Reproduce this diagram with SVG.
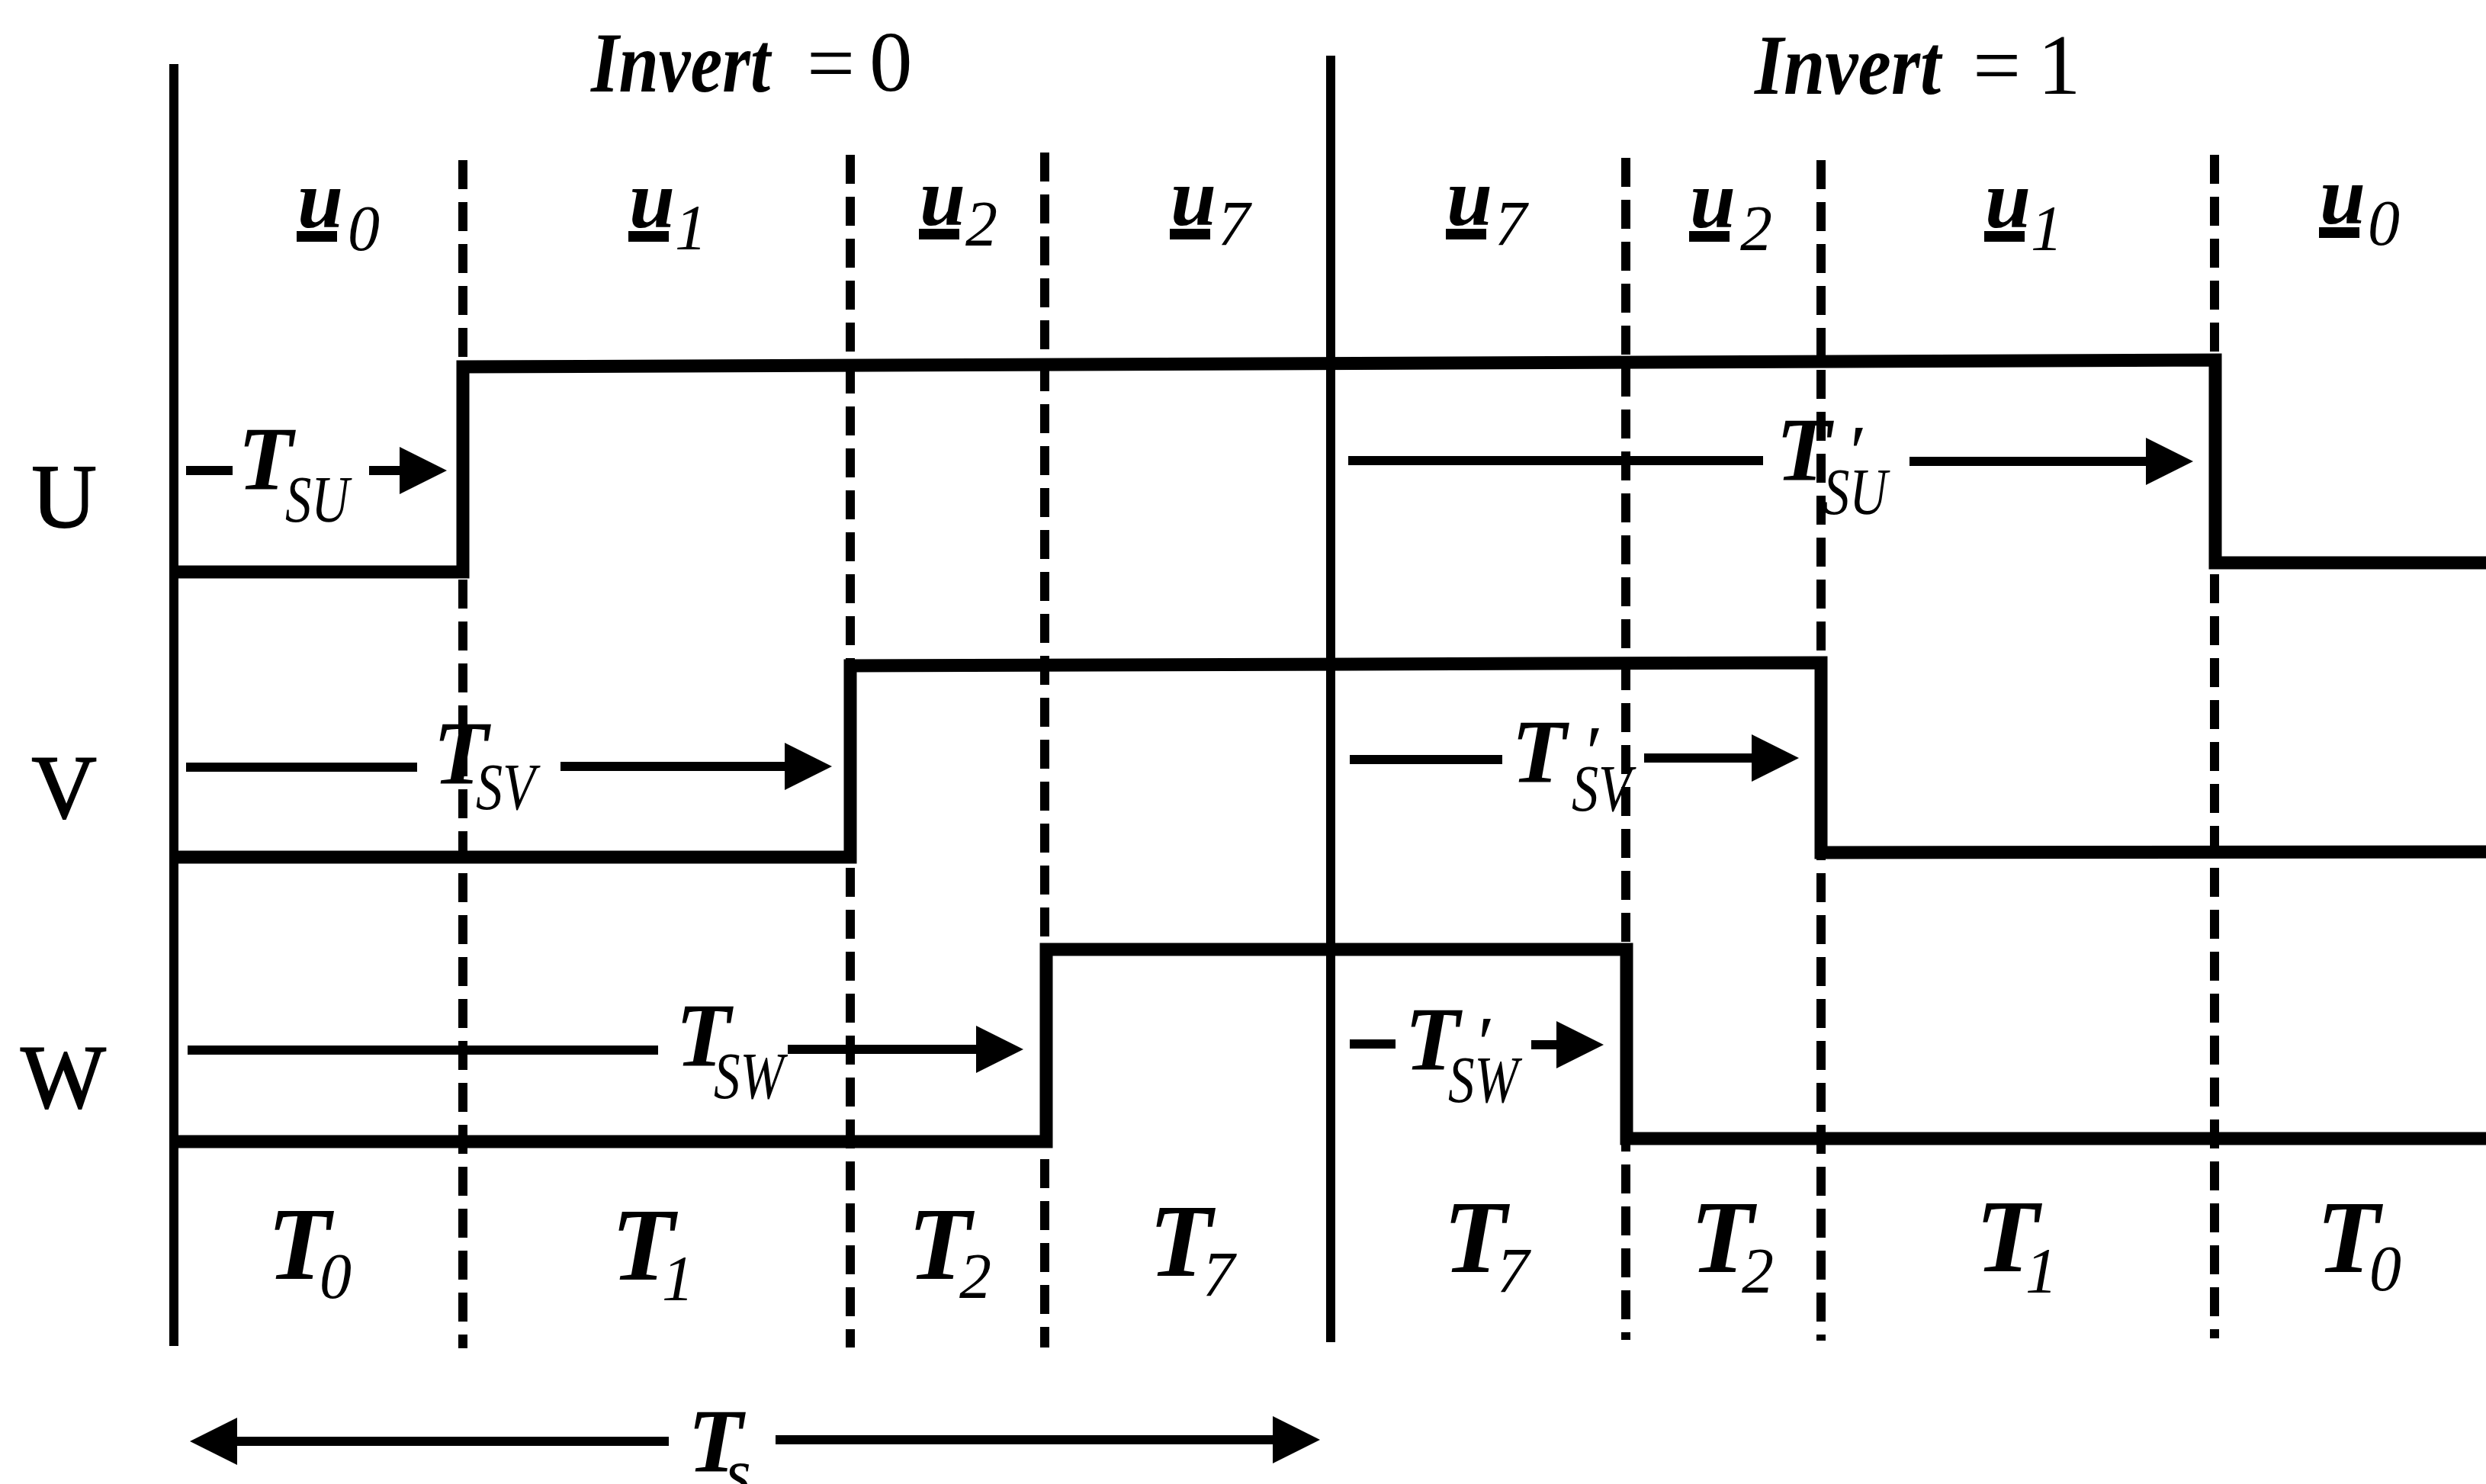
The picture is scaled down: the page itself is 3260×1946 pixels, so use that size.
<svg xmlns="http://www.w3.org/2000/svg" width="3260" height="1946" viewBox="0 0 3260 1946">
<style>
.solid{stroke:#000;stroke-width:12;fill:none}
.dash{stroke:#000;stroke-width:12;fill:none;stroke-dasharray:38 17}
.wave{stroke:#000;stroke-width:17;fill:none;stroke-linejoin:miter}
.arr{stroke:#000;stroke-width:12;fill:none}
.it{font-family:"Liberation Serif","Times New Roman",serif;font-style:italic;font-weight:700;fill:#000}
.si{font-family:"Liberation Serif","Times New Roman",serif;font-style:italic;font-weight:400;fill:#000}
.rm{font-family:"Liberation Serif","Times New Roman",serif;fill:#000}
.ul{fill:#000}
.big{font-size:136px}
.sub{font-size:84px}
.u{font-size:108px}
.lt{font-size:118px}
.ls{font-size:86px}
.pr{font-size:100px}
</style>
<defs>
<marker id="ah" markerUnits="userSpaceOnUse" markerWidth="62" markerHeight="62" refX="12" refY="31" orient="auto">
<path d="M0,0 L62,31 L0,62 z" fill="#000"/>
</marker>
</defs>
<rect width="3260" height="1946" fill="#fff"/>

<g id="grid">
<line class="solid" x1="228" y1="84" x2="228" y2="1765"/>
<line class="solid" x1="1745" y1="73" x2="1745" y2="1760"/>
<line class="dash" x1="607" y1="210" x2="607" y2="1768"/>
<line class="dash" x1="1115" y1="203" x2="1115" y2="1767"/>
<line class="dash" x1="1370" y1="200" x2="1370" y2="1767"/>
<line class="dash" x1="2132" y1="207" x2="2132" y2="1757"/>
<line class="dash" x1="2388" y1="210" x2="2388" y2="1758"/>
<line class="dash" x1="2904" y1="203" x2="2904" y2="1755"/>
</g>

<g id="header-invert0">
<text class="it" x="775" y="120" font-size="113" textLength="235" lengthAdjust="spacingAndGlyphs">Invert</text>
<text class="rm" x="1058" y="120" font-size="112">=</text>
<text class="rm" x="1140" y="119" font-size="113">0</text>
</g>
<g id="header-invert1">
<text class="it" x="2301" y="123" font-size="113" textLength="244" lengthAdjust="spacingAndGlyphs">Invert</text>
<text class="rm" x="2587" y="123" font-size="112">=</text>
<text class="rm" x="2672" y="123" font-size="113">1</text>
</g>

<g id="vector-labels">
<g id="u0a"><text class="it u" x="390" y="298">u</text><rect class="ul" x="389" y="303" width="53" height="14"/><text class="si sub" x="477" y="328" text-anchor="middle">0</text></g>
<g id="u1a"><text class="it u" x="825" y="298">u</text><rect class="ul" x="824" y="303" width="53" height="14"/><text class="si sub" x="906" y="327" text-anchor="middle">1</text></g>
<g id="u2a"><text class="it u" x="1206" y="295">u</text><rect class="ul" x="1205" y="300" width="53" height="14"/><text class="si sub" x="1287" y="322" text-anchor="middle">2</text></g>
<g id="u7a"><text class="it u" x="1535" y="295">u</text><rect class="ul" x="1534" y="300" width="53" height="14"/><text class="si sub" x="1618" y="322" text-anchor="middle">7</text></g>
<g id="u7b"><text class="it u" x="1897" y="295">u</text><rect class="ul" x="1896" y="300" width="53" height="14"/><text class="si sub" x="1981" y="322" text-anchor="middle">7</text></g>
<g id="u2b"><text class="it u" x="2216" y="298">u</text><rect class="ul" x="2215" y="303" width="53" height="14"/><text class="si sub" x="2303" y="328" text-anchor="middle">2</text></g>
<g id="u1b"><text class="it u" x="2603" y="298">u</text><rect class="ul" x="2602" y="303" width="53" height="14"/><text class="si sub" x="2684" y="328" text-anchor="middle">1</text></g>
<g id="u0b"><text class="it u" x="3042" y="293">u</text><rect class="ul" x="3041" y="298" width="53" height="14"/><text class="si sub" x="3126" y="321" text-anchor="middle">0</text></g>
</g>

<g id="phase-labels">
<text id="lblU" class="rm" x="84" y="691" font-size="118" text-anchor="middle" stroke="#000" stroke-width="2">U</text>
<text id="lblV" class="rm" x="84" y="1072" font-size="118" text-anchor="middle" stroke="#000" stroke-width="2">V</text>
<text id="lblW" class="rm" x="83" y="1452" font-size="118" text-anchor="middle" stroke="#000" stroke-width="2">W</text>
</g>

<g id="waveforms">
<path id="waveU" class="wave" d="M228,750 L607,750 L607,481 L2905,472 L2905,738 L3260,738"/>
<path id="waveV" class="wave" d="M228,1124 L1115,1124 L1115,873 L2388,869 L2388,1118 L3260,1117"/>
<path id="waveW" class="wave" d="M228,1497 L1372,1497 L1372,1245 L2133,1245 L2133,1493 L3260,1493"/>
</g>

<g id="connectors">
<line class="arr" x1="244" y1="617" x2="305" y2="617"/>
<line class="arr" x1="484" y1="617" x2="536" y2="617" marker-end="url(#ah)"/>
<line class="arr" x1="244" y1="1006" x2="547" y2="1006"/>
<line class="arr" x1="735" y1="1005" x2="1041" y2="1005" marker-end="url(#ah)"/>
<line class="arr" x1="246" y1="1377" x2="863" y2="1377"/>
<line class="arr" x1="1033" y1="1376" x2="1292" y2="1376" marker-end="url(#ah)"/>
<line class="arr" x1="1768" y1="604" x2="2312" y2="604"/>
<line class="arr" x1="2504" y1="605" x2="2826" y2="605" marker-end="url(#ah)"/>
<line class="arr" x1="1770" y1="996" x2="1970" y2="996"/>
<line class="arr" x1="2156" y1="994" x2="2309" y2="994" marker-end="url(#ah)"/>
<line class="arr" x1="1770" y1="1369" x2="1830" y2="1369"/>
<line class="arr" x1="2008" y1="1370" x2="2053" y2="1370" marker-end="url(#ah)"/>
<line class="arr" x1="877" y1="1890" x2="299" y2="1890" marker-end="url(#ah)"/>
<line class="arr" x1="1017" y1="1888" x2="1681" y2="1888" marker-end="url(#ah)"/>
</g>

<g id="time-labels">
<g id="tSU"><text class="it lt" x="348" y="642" text-anchor="middle">T</text><text class="si ls" x="374" y="684" textLength="84" lengthAdjust="spacingAndGlyphs">SU</text></g>
<g id="tSV"><text class="it lt" x="604" y="1028" text-anchor="middle">T</text><text class="si ls" x="624" y="1061" textLength="78" lengthAdjust="spacingAndGlyphs">SV</text></g>
<g id="tSW"><text class="it lt" x="922" y="1398" text-anchor="middle">T</text><text class="si ls" x="936" y="1440" textLength="92" lengthAdjust="spacingAndGlyphs">SW</text></g>
<g id="tSUp"><text class="it lt" x="2365" y="630" text-anchor="middle">T</text><text class="rm pr" x="2437" y="626" text-anchor="middle">′</text><text class="si ls" x="2391" y="674" textLength="84" lengthAdjust="spacingAndGlyphs">SU</text></g>
<g id="tSVp"><text class="it lt" x="2018" y="1026" text-anchor="middle">T</text><text class="rm pr" x="2091" y="1020" text-anchor="middle">′</text><text class="si ls" x="2061" y="1063" textLength="78" lengthAdjust="spacingAndGlyphs">SV</text></g>
<g id="tSWp"><text class="it lt" x="1878" y="1403" text-anchor="middle">T</text><text class="rm pr" x="1949" y="1401" text-anchor="middle">′</text><text class="si ls" x="1899" y="1445" textLength="92" lengthAdjust="spacingAndGlyphs">SW</text></g>
<g id="tS"><text class="it lt" x="938" y="1930" text-anchor="middle">T</text><text class="si ls" x="968" y="1960" text-anchor="middle">s</text></g>
</g>

<g id="interval-labels">
<g id="T0a"><text class="it big" x="392" y="1677" text-anchor="middle">T</text><text class="si sub" x="440" y="1702" text-anchor="middle">0</text></g>
<g id="T1a"><text class="it big" x="843" y="1678" text-anchor="middle">T</text><text class="si sub" x="889" y="1705" text-anchor="middle">1</text></g>
<g id="T2a"><text class="it big" x="1232" y="1677" text-anchor="middle">T</text><text class="si sub" x="1279" y="1702" text-anchor="middle">2</text></g>
<g id="T7a"><text class="it big" x="1548" y="1673" text-anchor="middle">T</text><text class="si sub" x="1598" y="1700" text-anchor="middle">7</text></g>
<g id="T7b"><text class="it big" x="1934" y="1668" text-anchor="middle">T</text><text class="si sub" x="1984" y="1695" text-anchor="middle">7</text></g>
<g id="T2b"><text class="it big" x="2258" y="1668" text-anchor="middle">T</text><text class="si sub" x="2305" y="1695" text-anchor="middle">2</text></g>
<g id="T1b"><text class="it big" x="2632" y="1667" text-anchor="middle">T</text><text class="si sub" x="2677" y="1695" text-anchor="middle">1</text></g>
<g id="T0b"><text class="it big" x="3079" y="1668" text-anchor="middle">T</text><text class="si sub" x="3128" y="1692" text-anchor="middle">0</text></g>
</g>
</svg>
